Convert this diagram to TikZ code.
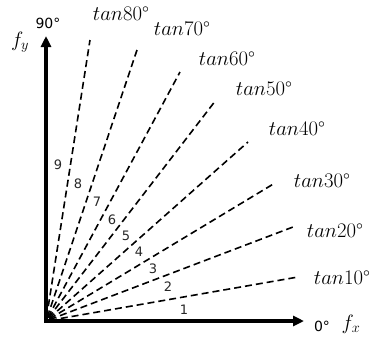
\documentclass[tikz,border=0pt]{standalone}
\usepackage{fontspec}
\usetikzlibrary{arrows.meta,calc}
\newfontfamily\numfont{DejaVu Sans}
\begin{document}
\begin{tikzpicture}[x=1pt,y=-1pt,
  axis/.style={line width=3.2pt,-{Triangle[length=11pt,width=10pt]}},
  ray/.style={line width=1.6pt,dash pattern=on 7pt off 4pt},
  lab/.style={font=\fontsize{20}{24}\selectfont,inner sep=0pt},
  num/.style={font=\numfont\fontsize{13}{15}\selectfont,text=black!85,inner sep=0pt},
  deg/.style={font=\numfont\fontsize{14}{16}\selectfont,inner sep=0pt}]
\useasboundingbox (0,0) rectangle (380,343);
\coordinate (o) at (46,321);
\coordinate (ytip) at (46,36);
\coordinate (xtip) at (304,321);
\draw[axis] (46,322.6) -- (ytip);
\draw[axis] (44.4,321) -- (xtip);
% rays
\coordinate (e80) at (90,40);
\coordinate (e70) at (137,50);
\coordinate (e60) at (180,72);
\coordinate (e50) at (216,100);
\coordinate (e40) at (248,142);
\coordinate (e30) at (275,183);
\coordinate (e20) at (293,227);
\coordinate (e10) at (298,277);
\foreach \a in {10,20,...,80}{
  \draw[ray] ($(o)!4pt!(e\a)$) -- (e\a);
}
% labels
\node[lab] (t80) at (121,14) {$tan80$°};
\node[lab] (t70) at (182,29) {$tan70$°};
\node[lab] (t60) at (227,59) {$tan60$°};
\node[lab] (t50) at (264,89) {$tan50$°};
\node[lab] (t40) at (297,129) {$tan40$°};
\node[lab] (t30) at (322,181) {$tan30$°};
\node[lab] (t20) at (335,231) {$tan20$°};
\node[lab] (t10) at (342,278) {$tan10$°};
% numbers
\node[num] (n9) at (58,165) {9};
\node[num] (n8) at (78,184) {8};
\node[num] (n7) at (97,202) {7};
\node[num] (n6) at (112,220) {6};
\node[num] (n5) at (126,236) {5};
\node[num] (n4) at (139,252) {4};
\node[num] (n3) at (153,269) {3};
\node[num] (n2) at (168,287) {2};
\node[num] (n1) at (184,310) {1};
% axis labels
\node[lab] (fy) at (20,42) {$f_y$};
\node[deg] (d90) at (48,23) {90°};
\node[deg] (d0) at (322,326) {0°};
\node[lab] (fx) at (351,324) {$f_x$};
\end{tikzpicture}
\end{document}
